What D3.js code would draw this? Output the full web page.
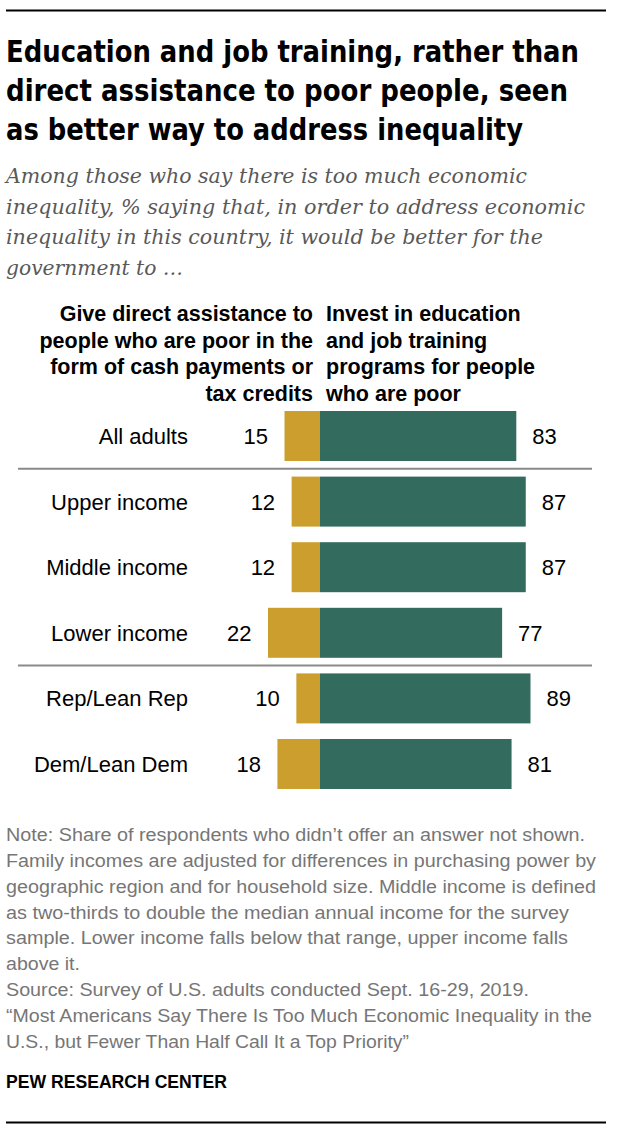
<!DOCTYPE html>
<html>
<head>
<meta charset="utf-8">
<script src="https://cdn.jsdelivr.net/npm/d3@7"></script>
<style>
  html, body { margin: 0; padding: 0; background: #fff; }
  svg { display: block; }
</style>
</head>
<body>
<div id="chart"></div>
<script>
// ---- Data ----
const categories = ["All adults", "Upper income", "Middle income", "Lower income", "Rep/Lean Rep", "Dem/Lean Dem"];
const groups = ["total", "income", "income", "income", "party", "party"];
const directAssistance = [15, 12, 12, 22, 10, 18];
const investEducation = [83, 87, 87, 77, 89, 81];

const titleLines = [
  "Education and job training, rather than",
  "direct assistance to poor people, seen",
  "as better way to address inequality"
];
const subtitleLines = [
  "Among those who say there is too much economic",
  "inequality, % saying that, in order to address economic",
  "inequality in this country, it would be better for the",
  "government to \u2026"
];
const leftHeader = ["Give direct assistance to", "people who are poor in the", "form of cash payments or", "tax credits"];
const rightHeader = ["Invest in education", "and job training", "programs for people", "who are poor"];
const noteLines = [
  "Note: Share of respondents who didn\u2019t offer an answer not shown.",
  "Family incomes are adjusted for differences in purchasing power by",
  "geographic region and for household size. Middle income is defined",
  "as two-thirds to double the median annual income for the survey",
  "sample. Lower income falls below that range, upper income falls",
  "above it.",
  "Source: Survey of U.S. adults conducted Sept. 16-29, 2019.",
  "\u201cMost Americans Say There Is Too Much Economic Inequality in the",
  "U.S., but Fewer Than Half Call It a Top Priority\u201d"
];
const credit = "PEW RESEARCH CENTER";

// ---- Layout ----
const W = 630, H = 1132;
const GOLD = "#CB9E2D", GREEN = "#336C5E";
const SANS = "'Liberation Sans', Arial, 'DejaVu Sans', sans-serif";
const NARROW = "'Liberation Sans Narrow', 'Arial Narrow', 'DejaVu Sans Condensed', sans-serif";
const SERIF = "'DejaVu Serif', Georgia, serif";

const svg = d3.select("#chart").append("svg")
  .attr("width", W).attr("height", H);

// fit helper: stretch/squeeze text horizontally to a target width
function fit(sel, target) {
  sel.each(function () {
    const n = this.getComputedTextLength();
    if (target && Math.abs(n - target) / target > 0.01) {
      d3.select(this).attr("textLength", target).attr("lengthAdjust", "spacingAndGlyphs");
    }
  });
}

// rules
svg.append("line").attr("x1", 6).attr("x2", 606).attr("y1", 10.5).attr("y2", 10.5)
  .attr("stroke", "#000").attr("stroke-width", 2);
svg.append("line").attr("x1", 6).attr("x2", 606).attr("y1", 1122.5).attr("y2", 1122.5)
  .attr("stroke", "#000").attr("stroke-width", 2);

// title
const titleW = [573, 562, 517];
titleLines.forEach((t, i) => {
  svg.append("text").attr("x", 6).attr("y", 62 + i * 39)
    .attr("font-family", NARROW).attr("font-weight", "bold").attr("font-size", 30.5)
    .attr("fill", "#000").text(t).call(fit, titleW[i]);
});

// subtitle
const subW = [521, 579, 537, 177];
subtitleLines.forEach((t, i) => {
  svg.append("text").attr("x", 6).attr("y", 183 + i * 30.5)
    .attr("font-family", SERIF).attr("font-style", "italic").attr("font-size", 20)
    .attr("fill", "#595959").text(t).call(fit, subW[i]);
});

// column headers
leftHeader.forEach((t, i) => {
  svg.append("text").attr("x", 313).attr("y", 321 + i * 26.5)
    .attr("text-anchor", "end")
    .attr("font-family", SANS).attr("font-weight", "bold").attr("font-size", 21.5)
    .attr("fill", "#000").text(t);
});
rightHeader.forEach((t, i) => {
  svg.append("text").attr("x", 326).attr("y", 321 + i * 26.5)
    .attr("font-family", SANS).attr("font-weight", "bold").attr("font-size", 21.5)
    .attr("fill", "#000").text(t);
});

// scales
const x = d3.scaleLinear().domain([-100, 100]).range([83.5, 556.5]);
const y = d3.scaleBand().domain(categories).range([403.2, 796.8])
  .paddingInner(0.238).paddingOuter(0.119);

const rows = categories.map((c, i) => ({
  cat: c, group: groups[i], left: directAssistance[i], right: investEducation[i]
}));

const g = svg.append("g");

// gold bars (left)
g.selectAll("rect.left").data(rows).join("rect").attr("class", "left")
  .attr("x", d => x(-d.left)).attr("width", d => x(0) - x(-d.left))
  .attr("y", d => y(d.cat)).attr("height", y.bandwidth())
  .attr("fill", GOLD);

// green bars (right)
g.selectAll("rect.right").data(rows).join("rect").attr("class", "right")
  .attr("x", x(0)).attr("width", d => x(d.right) - x(0))
  .attr("y", d => y(d.cat)).attr("height", y.bandwidth())
  .attr("fill", GREEN);

// category labels
g.selectAll("text.cat").data(rows).join("text").attr("class", "cat")
  .attr("x", 188).attr("y", d => y(d.cat) + y.bandwidth() / 2 + 8)
  .attr("text-anchor", "end")
  .attr("font-family", SANS).attr("font-size", 22).attr("fill", "#000")
  .text(d => d.cat);

// value labels
g.selectAll("text.lv").data(rows).join("text").attr("class", "lv")
  .attr("x", d => x(-d.left) - 16.5).attr("y", d => y(d.cat) + y.bandwidth() / 2 + 8)
  .attr("text-anchor", "end")
  .attr("font-family", SANS).attr("font-size", 22).attr("fill", "#000")
  .text(d => d.left);
g.selectAll("text.rv").data(rows).join("text").attr("class", "rv")
  .attr("x", d => x(d.right) + 16).attr("y", d => y(d.cat) + y.bandwidth() / 2 + 8)
  .attr("font-family", SANS).attr("font-size", 22).attr("fill", "#000")
  .text(d => d.right);

// group separators
const step = y.step();
const seps = rows.filter((d, i) => i > 0 && rows[i - 1].group !== d.group);
g.selectAll("line.sep").data(seps).join("line").attr("class", "sep")
  .attr("x1", 18).attr("x2", 592)
  .attr("y1", d => y(d.cat) - (step - y.bandwidth()) / 2)
  .attr("y2", d => y(d.cat) - (step - y.bandwidth()) / 2)
  .attr("stroke", "#8a8a8a").attr("stroke-width", 2);

// notes
const noteW = [579, 590, 590, 563, 562, 74, 523, 586, 403];
noteLines.forEach((t, i) => {
  svg.append("text").attr("x", 6).attr("y", 841 + i * 25.85)
    .attr("font-family", SANS).attr("font-size", 17.5)
    .attr("fill", "#767676").text(t).call(fit, noteW[i]);
});

svg.append("text").attr("x", 6).attr("y", 1088)
  .attr("font-family", SANS).attr("font-weight", "bold").attr("font-size", 18)
  .attr("fill", "#000").text(credit).call(fit, 221);
</script>
</body>
</html>
